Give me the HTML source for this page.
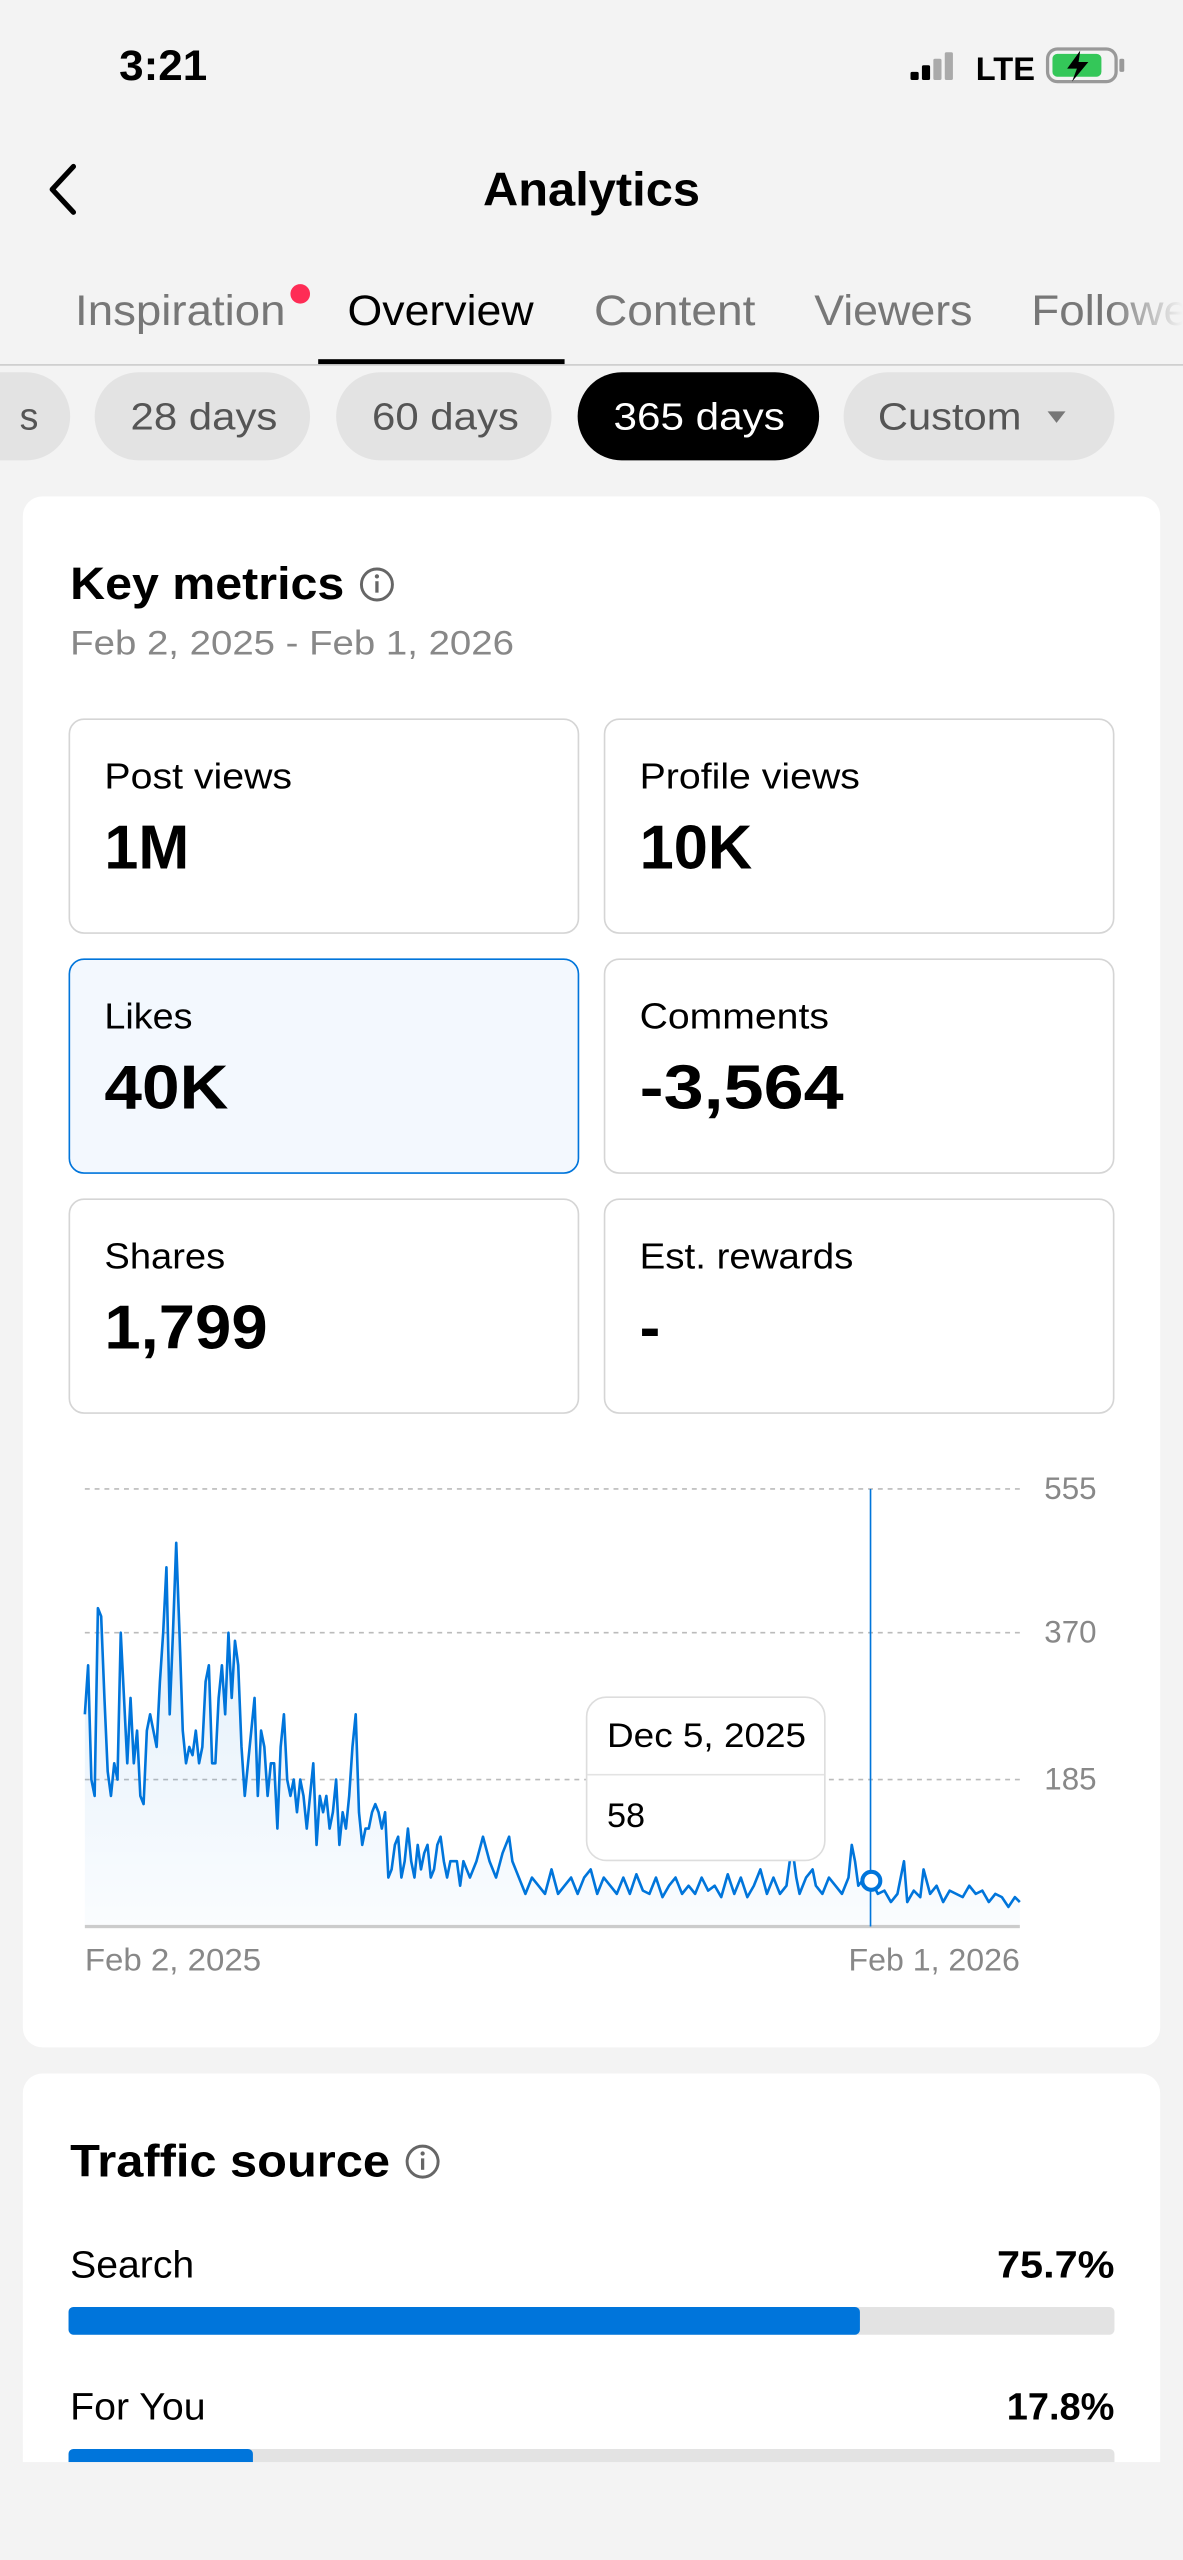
<!DOCTYPE html>
<html><head><meta charset="utf-8">
<style>
html,body{margin:0;padding:0;background:#f3f3f3;}
svg{display:block;}
text{font-family:"Liberation Sans",sans-serif;}
</style></head>
<body>
<svg width="1183" height="2560" viewBox="0 0 725 1568" preserveAspectRatio="none" xmlns="http://www.w3.org/2000/svg">
<defs>
<linearGradient id="g" x1="0" y1="0" x2="0" y2="1">
<stop offset="0" stop-color="#0075db" stop-opacity="0.13"/>
<stop offset="1" stop-color="#0075db" stop-opacity="0.02"/>
</linearGradient>
<linearGradient id="fade" x1="0" y1="0" x2="1" y2="0">
<stop offset="0" stop-color="#f3f3f3" stop-opacity="0"/>
<stop offset="1" stop-color="#f3f3f3" stop-opacity="1"/>
</linearGradient>
</defs>
<rect width="725" height="1568" fill="#f3f3f3"/>
<!-- status bar -->
<text x="73" y="49" font-size="26" font-weight="bold" fill="#000" textLength="54" lengthAdjust="spacingAndGlyphs">3:21</text>
<rect x="558" y="44" width="5" height="5" rx="1" fill="#000"/>
<rect x="565" y="40" width="5" height="9" rx="1" fill="#000"/>
<rect x="572" y="36" width="5" height="13" rx="1" fill="#aaa"/>
<rect x="579" y="32" width="5" height="17" rx="1" fill="#aaa"/>
<text x="598" y="49" font-size="20" font-weight="bold" fill="#000">LTE</text>
<rect x="642" y="30" width="42" height="20" rx="6" fill="none" stroke="#999" stroke-width="2"/>
<rect x="645" y="33" width="30" height="14" rx="3" fill="#34c759"/>
<rect x="686" y="36" width="3" height="8" rx="1" fill="#999"/>
<path d="M662 31 L654 42 L660 42 L657 50 L667 38 L661 38 Z" fill="#000"/>
<!-- header -->
<path d="M45 102 L32 116 L45 130" fill="none" stroke="#000" stroke-width="3.2" stroke-linecap="round" stroke-linejoin="round"/>
<text x="296" y="126" font-size="29" font-weight="bold" fill="#000" textLength="133" lengthAdjust="spacingAndGlyphs">Analytics</text>
<!-- tabs -->
<text x="46" y="199" font-size="26" fill="#777" textLength="129" lengthAdjust="spacingAndGlyphs">Inspiration</text>
<circle cx="184" cy="180" r="6" fill="#fe2c55"/>
<text x="213" y="199" font-size="26" fill="#000" textLength="114" lengthAdjust="spacingAndGlyphs">Overview</text>
<text x="364" y="199" font-size="26" fill="#777" textLength="99" lengthAdjust="spacingAndGlyphs">Content</text>
<text x="499" y="199" font-size="26" fill="#777" textLength="97" lengthAdjust="spacingAndGlyphs">Viewers</text>
<text x="632" y="199" font-size="26" fill="#777" textLength="120" lengthAdjust="spacingAndGlyphs">Followers</text>
<rect x="680" y="165" width="45" height="50" fill="url(#fade)"/>
<rect x="0" y="223" width="725" height="1" fill="#ccc"/>
<rect x="195" y="220" width="151" height="3" fill="#000"/>
<!-- pills -->
<rect x="-60" y="228" width="103" height="54" rx="27" fill="#e3e3e3"/>
<text x="12" y="263" font-size="23" fill="#555">s</text>
<rect x="58" y="228" width="132" height="54" rx="27" fill="#e3e3e3"/>
<text x="80" y="263" font-size="23" fill="#555" textLength="90" lengthAdjust="spacingAndGlyphs">28 days</text>
<rect x="206" y="228" width="132" height="54" rx="27" fill="#e3e3e3"/>
<text x="228" y="263" font-size="23" fill="#555" textLength="90" lengthAdjust="spacingAndGlyphs">60 days</text>
<rect x="354" y="228" width="148" height="54" rx="27" fill="#000"/>
<text x="376" y="263" font-size="23" fill="#fff" textLength="105" lengthAdjust="spacingAndGlyphs">365 days</text>
<rect x="517" y="228" width="166" height="54" rx="27" fill="#e3e3e3"/>
<text x="538" y="263" font-size="23" fill="#555" textLength="88" lengthAdjust="spacingAndGlyphs">Custom</text>
<path d="M642 252 L653 252 L647.5 259 Z" fill="#777"/>
<!-- card 1 -->
<rect x="14" y="304" width="697" height="950" rx="12" fill="#fff"/>
<text x="43" y="367" font-size="28" font-weight="bold" fill="#000" textLength="168" lengthAdjust="spacingAndGlyphs">Key metrics</text>
<circle cx="231" cy="358" r="9.5" fill="none" stroke="#666" stroke-width="1.8"/>
<rect x="230" y="356" width="2" height="7" fill="#666"/><circle cx="231" cy="353" r="1.3" fill="#666"/>
<text x="43" y="401" font-size="21" fill="#888" textLength="272" lengthAdjust="spacingAndGlyphs">Feb 2, 2025 - Feb 1, 2026</text>
<g font-size="22" fill="#000">
<rect x="42.5" y="440.5" width="312" height="131" rx="9" fill="#fff" stroke="#d5d5d5"/>
<rect x="370.5" y="440.5" width="312" height="131" rx="9" fill="#fff" stroke="#d5d5d5"/>
<rect x="42.5" y="587.5" width="312" height="131" rx="9" fill="#f3f8fe" stroke="#0075db"/>
<rect x="370.5" y="587.5" width="312" height="131" rx="9" fill="#fff" stroke="#d5d5d5"/>
<rect x="42.5" y="734.5" width="312" height="131" rx="9" fill="#fff" stroke="#d5d5d5"/>
<rect x="370.5" y="734.5" width="312" height="131" rx="9" fill="#fff" stroke="#d5d5d5"/>
<text x="64" y="483" textLength="115" lengthAdjust="spacingAndGlyphs">Post views</text>
<text x="392" y="483" textLength="135" lengthAdjust="spacingAndGlyphs">Profile views</text>
<text x="64" y="630" textLength="54" lengthAdjust="spacingAndGlyphs">Likes</text>
<text x="392" y="630" textLength="116" lengthAdjust="spacingAndGlyphs">Comments</text>
<text x="64" y="777" textLength="74" lengthAdjust="spacingAndGlyphs">Shares</text>
<text x="392" y="777" textLength="131" lengthAdjust="spacingAndGlyphs">Est. rewards</text>
</g>
<g font-size="38" font-weight="bold" fill="#000">
<text x="64" y="532" textLength="52" lengthAdjust="spacingAndGlyphs">1M</text>
<text x="392" y="532" textLength="69" lengthAdjust="spacingAndGlyphs">10K</text>
<text x="64" y="679" textLength="76" lengthAdjust="spacingAndGlyphs">40K</text>
<text x="392" y="679" textLength="125" lengthAdjust="spacingAndGlyphs">-3,564</text>
<text x="64" y="826" textLength="100" lengthAdjust="spacingAndGlyphs">1,799</text>
<text x="392" y="826">-</text>
</g>
<!-- chart -->
<g stroke="#bbb" stroke-width="1" stroke-dasharray="3 3">
<line x1="52" y1="912" x2="625" y2="912"/>
<line x1="52" y1="1000" x2="625" y2="1000"/>
<line x1="52" y1="1090" x2="625" y2="1090"/>
</g>
<g font-size="19" fill="#888">
<text x="640" y="918" textLength="32" lengthAdjust="spacingAndGlyphs">555</text>
<text x="640" y="1006" textLength="32" lengthAdjust="spacingAndGlyphs">370</text>
<text x="640" y="1096" textLength="32" lengthAdjust="spacingAndGlyphs">185</text>
<text x="52" y="1207" textLength="108" lengthAdjust="spacingAndGlyphs">Feb 2, 2025</text>
<text x="520" y="1207" textLength="105" lengthAdjust="spacingAndGlyphs">Feb 1, 2026</text>
</g>
<path fill="url(#g)" d="M52 1180 L52 1050 L54 1020 L56 1090 L58 1100 L60 985 L62 990 L64 1040 L66 1085 L68 1100 L70 1080 L72 1090 L74 1000 L76 1040 L78 1080 L80 1040 L82 1080 L84 1060 L86 1100 L88 1105 L90 1060 L92 1050 L94 1060 L96 1070 L98 1030 L100 1000 L102 960 L104 1050 L106 1000 L108 945 L110 1000 L112 1060 L114 1080 L116 1070 L118 1075 L120 1060 L122 1080 L124 1070 L126 1030 L128 1020 L130 1080 L132 1080 L134 1040 L136 1020 L138 1050 L140 1000 L142 1040 L144 1005 L146 1020 L148 1070 L150 1100 L152 1080 L154 1060 L156 1040 L158 1100 L160 1060 L162 1070 L164 1100 L166 1080 L168 1080 L170 1120 L172 1070 L174 1050 L176 1090 L178 1100 L180 1090 L182 1110 L184 1090 L186 1100 L188 1120 L190 1100 L192 1080 L194 1130 L196 1100 L198 1110 L200 1100 L202 1120 L204 1110 L206 1090 L208 1130 L210 1110 L212 1120 L214 1100 L216 1070 L218 1050 L220 1110 L222 1130 L224 1120 L226 1120 L228 1110 L230 1105 L232 1110 L234 1120 L236 1110 L238 1150 L240 1145 L242 1130 L244 1125 L246 1150 L248 1140 L250 1120 L252 1140 L254 1150 L256 1130 L258 1145 L260 1135 L262 1130 L264 1150 L266 1145 L268 1130 L270 1125 L272 1140 L274 1150 L276 1140 L280 1140 L282 1155 L284 1140 L288 1150 L292 1140 L296 1125 L300 1140 L304 1150 L308 1135 L312 1125 L314 1140 L318 1150 L322 1160 L326 1150 L330 1155 L334 1160 L338 1145 L342 1160 L346 1155 L350 1150 L354 1160 L358 1150 L362 1145 L366 1160 L370 1150 L374 1155 L378 1160 L382 1150 L386 1160 L390 1148 L394 1158 L398 1160 L402 1150 L406 1162 L410 1155 L414 1150 L418 1160 L422 1155 L426 1160 L430 1150 L434 1158 L438 1155 L442 1162 L446 1148 L450 1160 L454 1150 L458 1162 L462 1155 L466 1145 L470 1160 L474 1150 L478 1160 L482 1155 L484 1140 L486 1135 L488 1150 L490 1160 L494 1150 L498 1145 L500 1155 L504 1160 L508 1150 L512 1155 L516 1160 L520 1150 L522 1130 L524 1140 L526 1155 L530 1150 L534 1152 L538 1160 L542 1158 L546 1165 L550 1160 L554 1140 L556 1165 L560 1158 L564 1162 L566 1145 L570 1160 L574 1155 L578 1165 L582 1158 L586 1160 L590 1162 L594 1155 L598 1160 L602 1158 L606 1165 L610 1160 L614 1162 L618 1168 L622 1162 L625 1165 L625 1180 Z"/>
<path fill="none" stroke="#0075db" stroke-width="1.6" stroke-linejoin="round" d="M52 1050 L54 1020 L56 1090 L58 1100 L60 985 L62 990 L64 1040 L66 1085 L68 1100 L70 1080 L72 1090 L74 1000 L76 1040 L78 1080 L80 1040 L82 1080 L84 1060 L86 1100 L88 1105 L90 1060 L92 1050 L94 1060 L96 1070 L98 1030 L100 1000 L102 960 L104 1050 L106 1000 L108 945 L110 1000 L112 1060 L114 1080 L116 1070 L118 1075 L120 1060 L122 1080 L124 1070 L126 1030 L128 1020 L130 1080 L132 1080 L134 1040 L136 1020 L138 1050 L140 1000 L142 1040 L144 1005 L146 1020 L148 1070 L150 1100 L152 1080 L154 1060 L156 1040 L158 1100 L160 1060 L162 1070 L164 1100 L166 1080 L168 1080 L170 1120 L172 1070 L174 1050 L176 1090 L178 1100 L180 1090 L182 1110 L184 1090 L186 1100 L188 1120 L190 1100 L192 1080 L194 1130 L196 1100 L198 1110 L200 1100 L202 1120 L204 1110 L206 1090 L208 1130 L210 1110 L212 1120 L214 1100 L216 1070 L218 1050 L220 1110 L222 1130 L224 1120 L226 1120 L228 1110 L230 1105 L232 1110 L234 1120 L236 1110 L238 1150 L240 1145 L242 1130 L244 1125 L246 1150 L248 1140 L250 1120 L252 1140 L254 1150 L256 1130 L258 1145 L260 1135 L262 1130 L264 1150 L266 1145 L268 1130 L270 1125 L272 1140 L274 1150 L276 1140 L280 1140 L282 1155 L284 1140 L288 1150 L292 1140 L296 1125 L300 1140 L304 1150 L308 1135 L312 1125 L314 1140 L318 1150 L322 1160 L326 1150 L330 1155 L334 1160 L338 1145 L342 1160 L346 1155 L350 1150 L354 1160 L358 1150 L362 1145 L366 1160 L370 1150 L374 1155 L378 1160 L382 1150 L386 1160 L390 1148 L394 1158 L398 1160 L402 1150 L406 1162 L410 1155 L414 1150 L418 1160 L422 1155 L426 1160 L430 1150 L434 1158 L438 1155 L442 1162 L446 1148 L450 1160 L454 1150 L458 1162 L462 1155 L466 1145 L470 1160 L474 1150 L478 1160 L482 1155 L484 1140 L486 1135 L488 1150 L490 1160 L494 1150 L498 1145 L500 1155 L504 1160 L508 1150 L512 1155 L516 1160 L520 1150 L522 1130 L524 1140 L526 1155 L530 1150 L534 1152 L538 1160 L542 1158 L546 1165 L550 1160 L554 1140 L556 1165 L560 1158 L564 1162 L566 1145 L570 1160 L574 1155 L578 1165 L582 1158 L586 1160 L590 1162 L594 1155 L598 1160 L602 1158 L606 1165 L610 1160 L614 1162 L618 1168 L622 1162 L625 1165"/>
<rect x="52" y="1179" width="573" height="2" fill="#ccc"/>
<line x1="533.5" y1="912" x2="533.5" y2="1180" stroke="#0075db" stroke-width="1"/>
<circle cx="534" cy="1152" r="5.5" fill="#fff" stroke="#0075db" stroke-width="2.5"/>
<!-- tooltip -->
<rect x="359.5" y="1039.5" width="146" height="100" rx="12" fill="#fff" stroke="#ddd"/>
<line x1="360" y1="1087" x2="505" y2="1087" stroke="#e3e3e3"/>
<text x="372" y="1070" font-size="21" fill="#000" textLength="122" lengthAdjust="spacingAndGlyphs">Dec 5, 2025</text>
<text x="372" y="1119" font-size="21" fill="#000">58</text>
<!-- card 2 -->
<rect x="14" y="1270" width="697" height="260" rx="12" fill="#fff"/>
<text x="43" y="1333" font-size="28" font-weight="bold" fill="#000" textLength="196" lengthAdjust="spacingAndGlyphs">Traffic source</text>
<circle cx="259" cy="1324" r="9.5" fill="none" stroke="#666" stroke-width="1.8"/>
<rect x="258" y="1322" width="2" height="7" fill="#666"/><circle cx="259" cy="1319" r="1.3" fill="#666"/>
<text x="43" y="1395" font-size="23" fill="#000" textLength="76" lengthAdjust="spacingAndGlyphs">Search</text>
<text x="611" y="1395" font-size="23" font-weight="bold" fill="#000" textLength="72" lengthAdjust="spacingAndGlyphs">75.7%</text>
<rect x="42" y="1413" width="641" height="17" rx="3" fill="#e3e3e3"/>
<rect x="42" y="1413" width="485" height="17" rx="3" fill="#0075db"/>
<text x="43" y="1482" font-size="23" fill="#000" textLength="83" lengthAdjust="spacingAndGlyphs">For You</text>
<text x="617" y="1482" font-size="23" font-weight="bold" fill="#000" textLength="66" lengthAdjust="spacingAndGlyphs">17.8%</text>
<rect x="42" y="1500" width="641" height="17" rx="3" fill="#e3e3e3"/>
<rect x="42" y="1500" width="113" height="17" rx="3" fill="#0075db"/>
<rect x="0" y="1508" width="725" height="60" fill="#f3f3f3"/>
</svg>
</body></html>
